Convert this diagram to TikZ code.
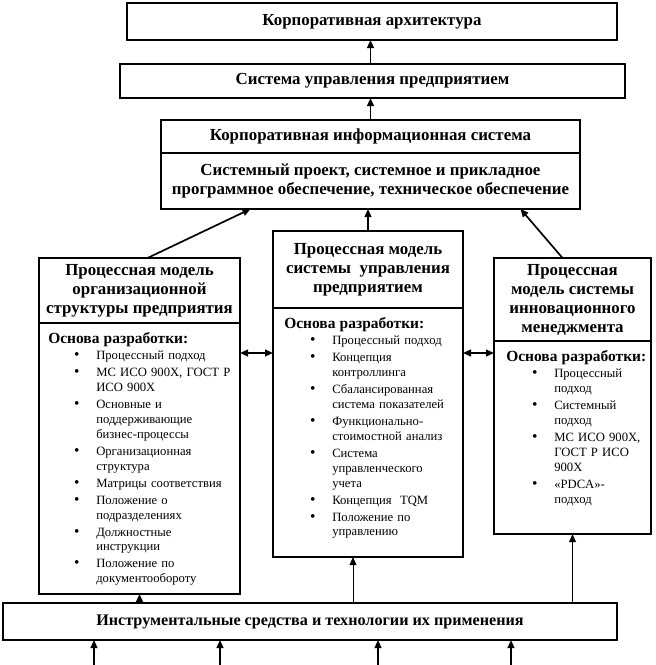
\documentclass[tikz,border=0pt]{standalone}
\usepackage{fontspec}
\setmainfont{Liberation Serif}
\usetikzlibrary{positioning,arrows.meta}
\newenvironment{osnova}{\begin{list}{{\fontsize{11}{11}\selectfont\textbullet}}{\setlength{\leftmargin}{1.2cm}%
  \setlength{\labelsep}{0.42cm}\setlength{\labelwidth}{0.75cm}\setlength{\itemsep}{1.5pt}%
  \setlength{\parsep}{0pt}\setlength{\topsep}{1pt}\setlength{\partopsep}{0pt}}}{\end{list}}
\newcommand{\osnhead}{{\fontsize{11}{13}\selectfont\bfseries Основа разработки:\par}}

\begin{document}
\begin{tikzpicture}[
  box/.style={draw,line width=1.7pt,outer sep=0pt,align=center,
              font=\fontsize{12}{13.5}\selectfont\bfseries},
  frame/.style={draw,line width=1.7pt,outer sep=0pt,below=0pt of #1},
  osn/.style={inner sep=0pt,align=left,anchor=north west,
              font=\fontsize{9}{10.6}\selectfont},
  arr/.style={-{Triangle[length=2mm,width=1.7mm]},line width=1.2pt},
  dbl/.style={{Triangle[length=2mm,width=1.7mm]}-{Triangle[length=2mm,width=1.7mm]},line width=1.2pt}]
  \useasboundingbox (0,0) rectangle (16.4,-16.625);
  \node[box,minimum width=12.25cm,minimum height=0.925cm] (arch) at (9.3,-0.5375) {Корпоративная архитектура};
  \node[box,minimum width=12.625cm,minimum height=0.85cm] (sup) at (9.3125,-2.025) {Система управления предприятием};
  \node[box,minimum width=10.475cm,minimum height=0.825cm] (kish) at (9.2625,-3.4125) {Корпоративная информационная система};
  \node[box,minimum width=10.475cm,minimum height=1.4cm,below=0pt of kish] (kisb) {Системный проект, системное и прикладное\\ программное обеспечение, техническое обеспечение};

  \node[box,minimum width=5.025cm,minimum height=1.625cm] (lefth) at (3.4875,-7.2625) {Процессная модель\\ организационной\\ структуры предприятия};
  \node[frame=lefth,minimum width=5.025cm,minimum height=6.775cm] (leftb) {};
  \node[osn,text width=4.675cm] (leftt) at ([xshift=0.225cm,yshift=-0.22cm]leftb.north west) {\osnhead
    \begin{osnova}
    \item Процессный подход
    \item МС ИСО 900Х, ГОСТ Р\\ ИСО 900Х
    \item Основные и\\ поддерживающие\\ бизнес-процессы
    \item Организационная\\ структура
    \item Матрицы соответствия
    \item Положение о\\ подразделениях
    \item Должностные\\ инструкции
    \item Положение по\\ документообороту
    \end{osnova}};

  \node[box,minimum width=4.75cm,minimum height=1.925cm] (midh) at (9.2,-6.7375) {Процессная модель\\ системы\ \ управления\\ предприятием};
  \node[frame=midh,minimum width=4.75cm,minimum height=6.225cm] (midb) {};
  \node[osn,text width=4.275cm] (midt) at ([xshift=0.275cm,yshift=-0.22cm]midb.north west) {\osnhead
    \begin{osnova}
    \item Процессный подход
    \item Концепция\\ контроллинга
    \item Сбалансированная\\ система показателей
    \item Функционально-\\ стоимостной анализ
    \item Система\\ управленческого\\ учета
    \item Концепция\ \ TQM
    \item Положение по\\ управлению
    \end{osnova}};

  \node[box,minimum width=3.925cm,minimum height=2.075cm] (righth) at (14.3125,-7.4875) {Процессная\\ модель системы\\ инновационного\\ менеджмента};
  \node[frame=righth,minimum width=3.925cm,minimum height=4.825cm] (rightb) {};
  \node[osn,text width=3.55cm] (rightt) at ([xshift=0.3cm,yshift=-0.22cm]rightb.north west) {\osnhead
    \begin{osnova}
    \item Процессный\\ подход
    \item Системный\\ подход
    \item МС ИСО 900Х,\\ ГОСТ Р ИСО\\ 900Х
    \item «PDCA»-\\ подход
    \end{osnova}};

  \node[box,minimum width=15.35cm,minimum height=0.925cm,font=\fontsize{11.5}{13}\selectfont\bfseries] (tools) at (7.75,-15.5375) {Инструментальные средства и технологии их применения};

  \draw[arr] (sup.north -| kish.north) -- (kish.north |- arch.south);
  \draw[arr] (kish.north) -- (kish.north |- sup.south);
  \draw[arr] (midh.north) -- (midh.north |- kisb.south);
  \draw[arr] ([xshift=0.2cm]lefth.north) -- ([xshift=-3cm]kisb.south);
  \draw[arr] ([xshift=-0.25cm]righth.north) -- ([xshift=3.75cm]kisb.south);

  \coordinate (dl) at ([yshift=2.6375cm]leftb.east);
  \coordinate (dr) at ([yshift=1.9875cm]midb.east);
  \draw[dbl] (dl) -- (dl -| midb.west);
  \draw[dbl] (dr) -- (dr -| rightb.west);

  \coordinate (mb) at ([xshift=-0.375cm]midb.south);
  \draw[arr] (leftb.south |- tools.north) -- (leftb.south);
  \draw[arr,line width=0.7pt] (mb |- tools.north) -- (mb);
  \draw[arr,line width=0.7pt] (rightb.south |- tools.north) -- (rightb.south);

  \foreach \x/\n in {2.35/a,5.5/b,9.45/c,12.775/d}{
    \coordinate (in\n) at (\x,-16.625);
    \draw[arr] (in\n) -- (in\n |- tools.south);
  }
\end{tikzpicture}
\end{document}
